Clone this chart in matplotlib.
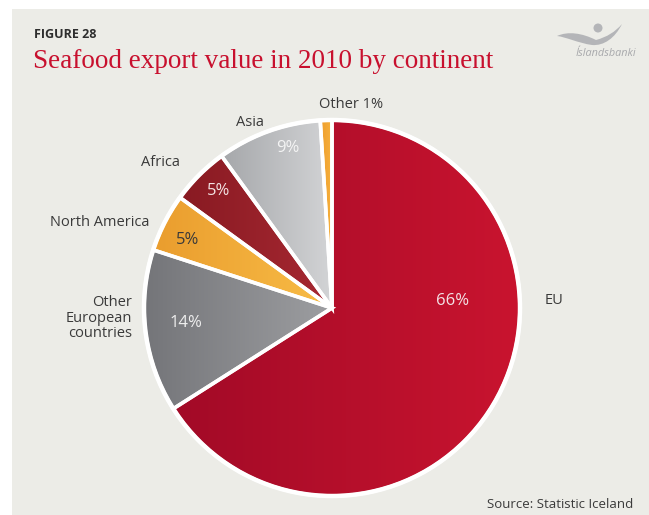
import numpy as np
import matplotlib
matplotlib.use("Agg")
import matplotlib.pyplot as plt
from matplotlib.patches import Circle, PathPatch, Rectangle, Wedge
from matplotlib.path import Path
from matplotlib.colors import LinearSegmentedColormap

# Seafood export value shares, 2010
categories = ["EU", "Other\nEuropean\ncountries", "North America", "Africa", "Asia", "Other"]
shares = [66, 14, 5, 5, 9, 1]
pct_labels = ["66%", "14%", "5%", "5%", "9%", ""]

# left -> right gradient stops per slice
grad_left = ["#a20a27", "#747579", "#ea9d2e", "#881a22", "#a5a7aa", "#ee9d2c"]
grad_right = ["#c9142f", "#9d9ea1", "#f8bc46", "#a72832", "#d3d4d6", "#f6b03c"]

W, H = 649, 515
fig = plt.figure(figsize=(W / 100, H / 100), dpi=100)
fig.patch.set_facecolor("white")
ax = fig.add_axes([0, 0, 1, 1])


def py(y):
    # convert a top-down pixel row into data y
    return H - y


# panel background
ax.add_patch(Rectangle((12, 0), W - 12, H - 9, facecolor="#ecece7", edgecolor="none", zorder=0))

cx, cy, R = 332, py(308), 188
wedges, _ = ax.pie(shares, startangle=90, counterclock=False, radius=R, center=(cx, cy),
                   frame=True, wedgeprops=dict(linewidth=0))
ax.set_xlim(0, W)
ax.set_ylim(0, H)
ax.set_aspect("equal")
ax.axis("off")

for w, cl, cr in zip(wedges, grad_left, grad_right):
    w.set_facecolor("none")
    bb = w.get_path().get_extents(w.get_patch_transform())
    cmap = LinearSegmentedColormap.from_list("g", [cl, cr])
    grad = np.linspace(0, 1, 256).reshape(1, -1)
    im = ax.imshow(grad, cmap=cmap, aspect="auto", interpolation="bilinear",
                   extent=(bb.x0, bb.x1, bb.y0, bb.y1), zorder=1)
    im.set_clip_path(w)

# white separators and outer rim
for w in wedges:
    ax.add_patch(Wedge((cx, cy), R, w.theta1, w.theta2, facecolor="none",
                       edgecolor="white", linewidth=2.6, zorder=3, joinstyle="miter"))
ax.add_patch(Circle((cx, cy), R, facecolor="none", edgecolor="white", linewidth=3.2, zorder=4))

sans = ["Open Sans", "DejaVu Sans"]
label_color = "#3a3a3a"

# outer category labels
outer = [
    (545, 301, "left", "EU"),
    (132, 318, "right", "Other\nEuropean\ncountries"),
    (149, 222, "right", "North America"),
    (180, 162, "right", "Africa"),
    (264, 122, "right", "Asia"),
    (319, 104, "left", "Other 1%"),
]
for (x, y, ha, t) in outer:
    ax.text(x, py(y), t, ha=ha, va="center", fontsize=10.5, color=label_color, family=sans,
            linespacing=1.05, zorder=5)

# percentage labels inside slices
inner = [(453, 301, "#f3e2e5"), (186, 323, "#eeeeee"), (188, 240, "#3a3a3a"),
         (219, 191, "#f3e3e3"), (288, 148, "#f4f4f4"), (0, 0, "none")]
for (x, y, c), t in zip(inner, pct_labels):
    if t:
        ax.text(x, py(y), t, ha="center", va="center", fontsize=12, color=c, family=sans,
                zorder=5)

# heading
ax.text(34, py(35), "FIGURE 28", ha="left", va="center", fontsize=9, fontweight="bold",
        color="#2e2e2e", family=sans)
ax.text(33, py(62), "Seafood export value in 2010 by continent", ha="left", va="center",
        fontsize=19.5, color="#c8102e", family=["Liberation Serif", "DejaVu Serif"])

# source note
ax.text(633, py(505), "Source: Statistic Iceland", ha="right", va="center", fontsize=9.5,
        color=label_color, family=sans)

# bank logo: swoosh, dot and wordmark
pts = [(557, 36),
       (568, 31), (582, 33), (596, 40),
       (607, 37), (615, 32), (622, 24),
       (615, 38), (604, 46), (592, 45),
       (578, 43), (566, 37), (557, 36)]
codes = [Path.MOVETO] + [Path.CURVE4] * 12
swoosh = Path([(x, py(y)) for x, y in pts], codes)
ax.add_patch(PathPatch(swoosh, facecolor="#b4b5b8", edgecolor="none", zorder=5))
ax.add_patch(Circle((598, py(28)), 4.5, facecolor="#b4b5b8", edgecolor="none", zorder=5))
ax.text(606, py(53), "Íslandsbanki", ha="center", va="center", fontsize=7.8, style="italic",
        color="#a8a9ac", family=sans)

fig.savefig("out.png", dpi=100, facecolor=fig.get_facecolor())
